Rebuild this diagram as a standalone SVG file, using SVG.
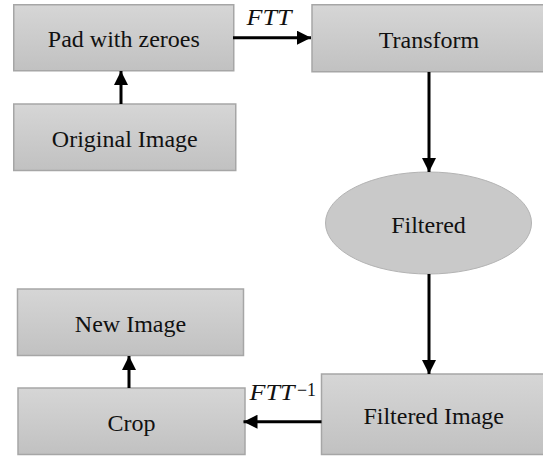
<svg xmlns="http://www.w3.org/2000/svg" width="543" height="456" viewBox="0 0 543 456">
<style>
.box{fill:url(#g);stroke:#a6a6a6;stroke-width:1.5}
.ell{fill:#c9c9c9;stroke:#b3b3b3;stroke-width:1}
.t{font-family:"Liberation Serif","Times New Roman",serif;font-size:24px;fill:#111;text-anchor:middle}
.m{font-family:"Liberation Serif","Times New Roman",serif;font-size:24px;font-style:italic;fill:#111}
.s{font-family:"Liberation Serif","Times New Roman",serif;font-size:18px;fill:#111}
.c{stroke:#000;stroke-width:3;fill:none}
</style>
<defs>
<linearGradient id="g" x1="0" y1="0" x2="0" y2="1">
<stop offset="0" stop-color="#d6d6d6"/>
<stop offset="1" stop-color="#c1c1c1"/>
</linearGradient>
<marker id="a" markerUnits="userSpaceOnUse" markerWidth="15" markerHeight="14" refX="14" refY="7" orient="auto">
<path d="M0,0 L14,7 L0,14 Z" fill="#000"/>
</marker>
</defs>
<g id="pad"><rect class="box" x="13.75" y="4.75" width="220" height="66"/><text class="t" x="123.8" y="46.7">Pad with zeroes</text></g>
<g id="transform"><rect class="box" x="312" y="4.75" width="236" height="67"/><text class="t" x="429" y="47.5">Transform</text></g>
<g id="original"><rect class="box" x="13.75" y="104" width="222" height="66.5"/><text class="t" x="124.8" y="146.5">Original Image</text></g>
<g id="filtered"><ellipse class="ell" cx="428.5" cy="223" rx="103" ry="51"/><text class="t" x="428.5" y="233">Filtered</text></g>
<g id="newimage"><rect class="box" x="17.5" y="289" width="226" height="66.5"/><text class="t" x="130.5" y="331.5">New Image</text></g>
<g id="crop"><rect class="box" x="18" y="388" width="227" height="66.5"/><text class="t" x="131.5" y="430.7">Crop</text></g>
<g id="filteredimage"><rect class="box" x="321.5" y="374" width="226" height="80.5"/><text class="t" x="433.7" y="423.7">Filtered Image</text></g>
<g id="connectors">
<line class="c" x1="121" y1="104" x2="121" y2="71" marker-end="url(#a)"/>
<line class="c" x1="233" y1="37.7" x2="311" y2="37.7" marker-end="url(#a)"/>
<text class="m" x="246.5" y="25" textLength="45" lengthAdjust="spacingAndGlyphs">FTT</text>
<line class="c" x1="429" y1="72" x2="429" y2="172" marker-end="url(#a)"/>
<line class="c" x1="429" y1="274" x2="429" y2="374" marker-end="url(#a)"/>
<line class="c" x1="321.5" y1="421.7" x2="243.5" y2="421.7" marker-end="url(#a)"/>
<text class="m" x="249.5" y="400" textLength="45" lengthAdjust="spacingAndGlyphs">FTT</text>
<text class="s" x="297" y="396" textLength="19" lengthAdjust="spacingAndGlyphs">−1</text>
<line class="c" x1="129" y1="388" x2="129" y2="356" marker-end="url(#a)"/>
</g>
</svg>
